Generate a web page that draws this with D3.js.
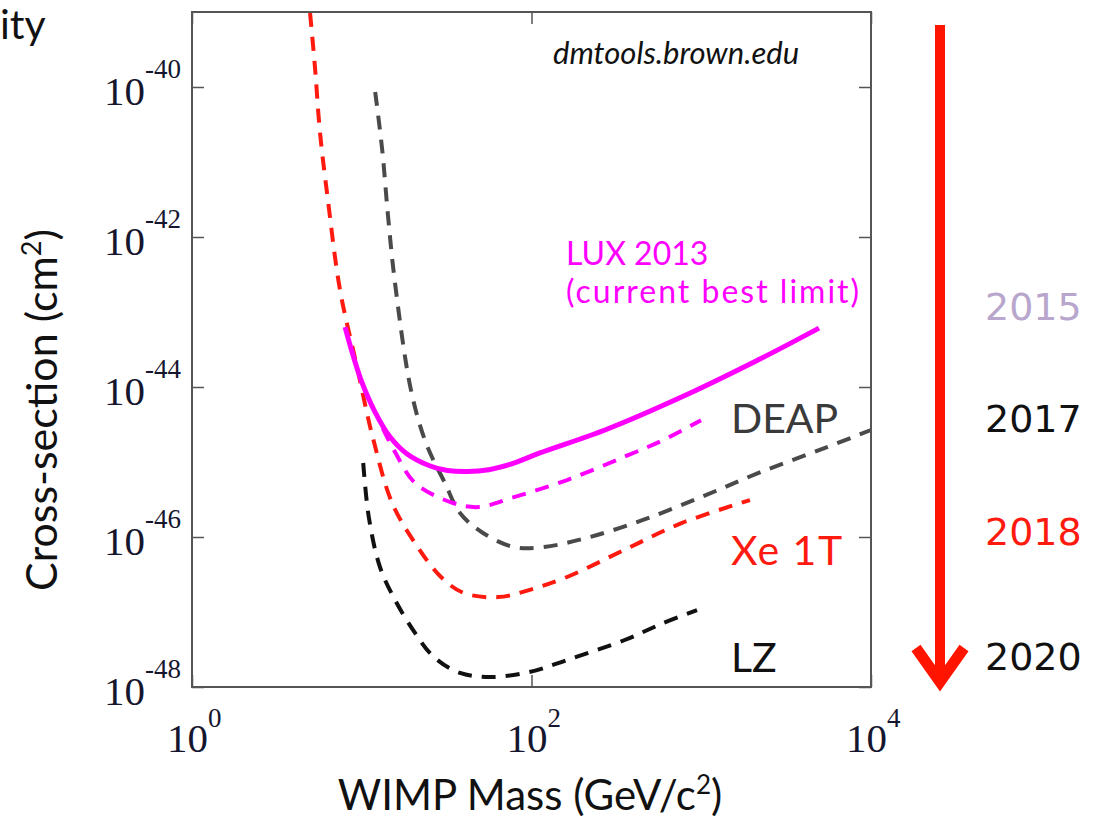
<!DOCTYPE html>
<html><head><meta charset="utf-8">
<script src="https://cdn.jsdelivr.net/npm/d3@7"></script>
<style>body{margin:0;background:#fff;} svg{display:block;}</style>
</head><body>
<svg id="c" width="1102" height="828"></svg>
<script>
// ---- data (mass in GeV/c^2, cross-section in cm^2) ----
const xe1tMass = [4.96,5.3,5.68,6.32,7.45,9.38,11.6,15.1,20.6,29.3,40.0,63.5,96.6,162,351,771,1936];
const xe1tXs   = [9.7e-40,1.85e-40,2.44e-41,3.1e-42,1.96e-43,1.85e-44,2.15e-45,2.84e-46,8.3e-47,2.93e-47,1.79e-47,1.58e-47,1.96e-47,2.93e-47,6.7e-47,1.54e-46,3.1e-46];

const deapMass = [12.0,13.2,14.3,15.7,19.5,23.9,30.9,37.9,51.8,78.8,118.5,221,454,997,2160,5510,10000];
const deapXs   = [8.6e-41,1.45e-41,1.85e-42,2.44e-43,9.1e-45,1.79e-45,5.25e-46,2.09e-46,1.13e-46,7.36e-47,7.36e-47,1.0e-46,1.69e-46,3.4e-46,7.1e-46,1.58e-45,2.67e-45];

const luxMass = [7.97,8.88,10.0,12.0,14.7,18.5,25.3,32,42,56,78,112,271,771,2160,4940];
const luxXs   = [6.3e-44,2.67e-44,1.17e-44,4.6e-45,2.15e-45,1.28e-45,8.85e-46,7.7e-46,7.45e-46,7.9e-46,9.6e-46,1.32e-45,2.67e-45,7.4e-45,2.29e-44,6.1e-44];

const luxProjMass = [13.3,15.7,20.6,34.5,49.1,78.8,162,351,596,997];
const luxProjXs   = [2.8e-45,1.36e-45,5.25e-46,2.84e-46,2.51e-46,3.4e-46,5.75e-46,1.17e-45,1.96e-45,3.6e-45];

const lzMass = [10.2,11.0,12.8,15.7,20.6,26.6,37.9,57.7,96.6,162,351,596,944];
const lzXs   = [9.7e-46,1.85e-46,3.98e-47,1.45e-47,5.25e-48,2.51e-48,1.54e-48,1.36e-48,1.58e-48,2.29e-48,4.2e-48,7.1e-48,1.06e-47];

const xTicks = [1, 100, 10000];
const xTickExp = ["0", "2", "4"];
const yTicks = [1e-40, 1e-42, 1e-44, 1e-46, 1e-48];
const yTickExp = ["-40", "-42", "-44", "-46", "-48"];
const years = ["2015", "2017", "2018", "2020"];

// ---- layout ----
const svg = d3.select("#c");
const L = 192, R = 871, T = 12, B = 687;
const x = d3.scaleLog().domain([1, 1e4]).range([L, R]);
const y = d3.scaleLog().domain([1e-48, 1e-39]).range([B, T]);

const sans = "Lato, 'Open Sans', sans-serif";
const serif = "'Liberation Serif', 'DejaVu Serif', serif";

// cut-off title fragment
svg.append("text").attr("x", 0).attr("y", 39).attr("font-family", sans)
  .attr("font-size", 41).attr("fill", "#111").text("ity");

// curves
const line = d3.line().x(d => x(d[0])).y(d => y(d[1])).curve(d3.curveCatmullRom.alpha(0.5));
const zip = (a, b) => a.map((v, i) => [v, b[i]]);
const g = svg.append("g");
function curve(m, v, color, dash, w) {
  g.append("path").datum(zip(m, v)).attr("d", line).attr("fill", "none")
    .attr("stroke", color).attr("stroke-width", w).attr("stroke-dasharray", dash);
}
curve(lzMass, lzXs, "#111111", "14,10", 4);
curve(deapMass, deapXs, "#4a4a4a", "14,10", 4);
curve(xe1tMass, xe1tXs, "#ff1a10", "14,10", 4);
curve(luxProjMass, luxProjXs, "#ff00ff", "14,10", 4);
curve(luxMass, luxXs, "#ff00ff", null, 5);

// frame and axes
svg.append("rect").attr("x", L).attr("y", T).attr("width", R - L).attr("height", B - T)
  .attr("fill", "none").attr("stroke", "#555").attr("stroke-width", 2);
const ax = (gen, tr) => svg.append("g").attr("transform", tr).call(gen)
  .call(s => { s.select(".domain").remove(); s.selectAll("text").remove();
               s.selectAll("line").attr("stroke", "#555").attr("stroke-width", 1.5); });
ax(d3.axisLeft(y).tickValues(yTicks).tickSize(-12), `translate(${L},0)`);
ax(d3.axisRight(y).tickValues(yTicks).tickSize(-12), `translate(${R},0)`);
ax(d3.axisBottom(x).tickValues(xTicks).tickSize(-12), `translate(0,${B})`);
ax(d3.axisTop(x).tickValues(xTicks).tickSize(-12), `translate(0,${T})`);

// tick labels
const tickCol = "#15152e";
yTicks.forEach((t, i) => {
  const tx = svg.append("text").attr("x", 104).attr("y", y(t) + 18)
    .attr("font-family", serif).attr("font-size", 41).attr("fill", tickCol);
  tx.append("tspan").text("10");
  tx.append("tspan").attr("dy", -27).attr("font-size", 27).text(yTickExp[i]);
});
xTicks.forEach((t, i) => {
  const tx = svg.append("text").attr("x", x(t) - 25).attr("y", 752)
    .attr("font-family", serif).attr("font-size", 41).attr("fill", tickCol);
  tx.append("tspan").text("10");
  tx.append("tspan").attr("dy", -25).attr("font-size", 27).text(xTickExp[i]);
});

// axis titles
const yl = svg.append("text").attr("transform", "translate(57,410) rotate(-90)")
  .attr("text-anchor", "middle").attr("font-family", sans).attr("font-size", 43).attr("fill", "#111");
yl.append("tspan").text("Cross-section (cm");
yl.append("tspan").attr("dy", -16).attr("font-size", 27).text("2");
yl.append("tspan").attr("dy", 16).text(")");
const xl = svg.append("text").attr("x", 530).attr("y", 810)
  .attr("text-anchor", "middle").attr("font-family", sans).attr("font-size", 42).attr("fill", "#111");
xl.append("tspan").text("WIMP Mass (GeV/c");
xl.append("tspan").attr("dy", -16).attr("font-size", 26).text("2");
xl.append("tspan").attr("dy", 16).text(")");

// annotations
svg.append("text").attr("x", 553).attr("y", 64).attr("font-family", sans).attr("font-style", "italic")
  .attr("font-size", 31).attr("fill", "#111").text("dmtools.brown.edu");
svg.append("text").attr("x", 566).attr("y", 265).attr("font-family", sans)
  .attr("font-size", 32).attr("fill", "#ff00ff").text("LUX 2013");
svg.append("text").attr("x", 566).attr("y", 303).attr("font-family", sans)
  .attr("font-size", 32).attr("letter-spacing", 2).attr("fill", "#ff00ff").text("(current best limit)");
svg.append("text").attr("x", 731).attr("y", 433).attr("font-family", sans)
  .attr("font-size", 41).attr("fill", "#3a3a3a").text("DEAP");
svg.append("text").attr("x", 731).attr("y", 565).attr("font-family", sans)
  .attr("font-size", 41).attr("letter-spacing", 1.5).attr("fill", "#ff1a10").text("Xe 1T");
svg.append("text").attr("x", 731).attr("y", 672).attr("font-family", sans)
  .attr("font-size", 41).attr("fill", "#111").text("LZ");

// timeline arrow
svg.append("line").attr("x1", 940).attr("y1", 25).attr("x2", 940).attr("y2", 680)
  .attr("stroke", "#ff1400").attr("stroke-width", 10);
svg.append("path").attr("d", "M916,648 L940,682 L964,648").attr("fill", "none")
  .attr("stroke", "#ff1400").attr("stroke-width", 11).attr("stroke-linejoin", "miter");

const yearCol = ["#b8a6cc", "#111", "#ff1a10", "#111"];
const yearY = [320, 432, 545, 670];
years.forEach((t, i) => svg.append("text").attr("x", 985).attr("y", yearY[i])
  .attr("font-family", "'DejaVu Sans', Verdana, sans-serif").attr("font-size", 38)
  .attr("fill", yearCol[i]).text(t));
</script>
</body></html>
